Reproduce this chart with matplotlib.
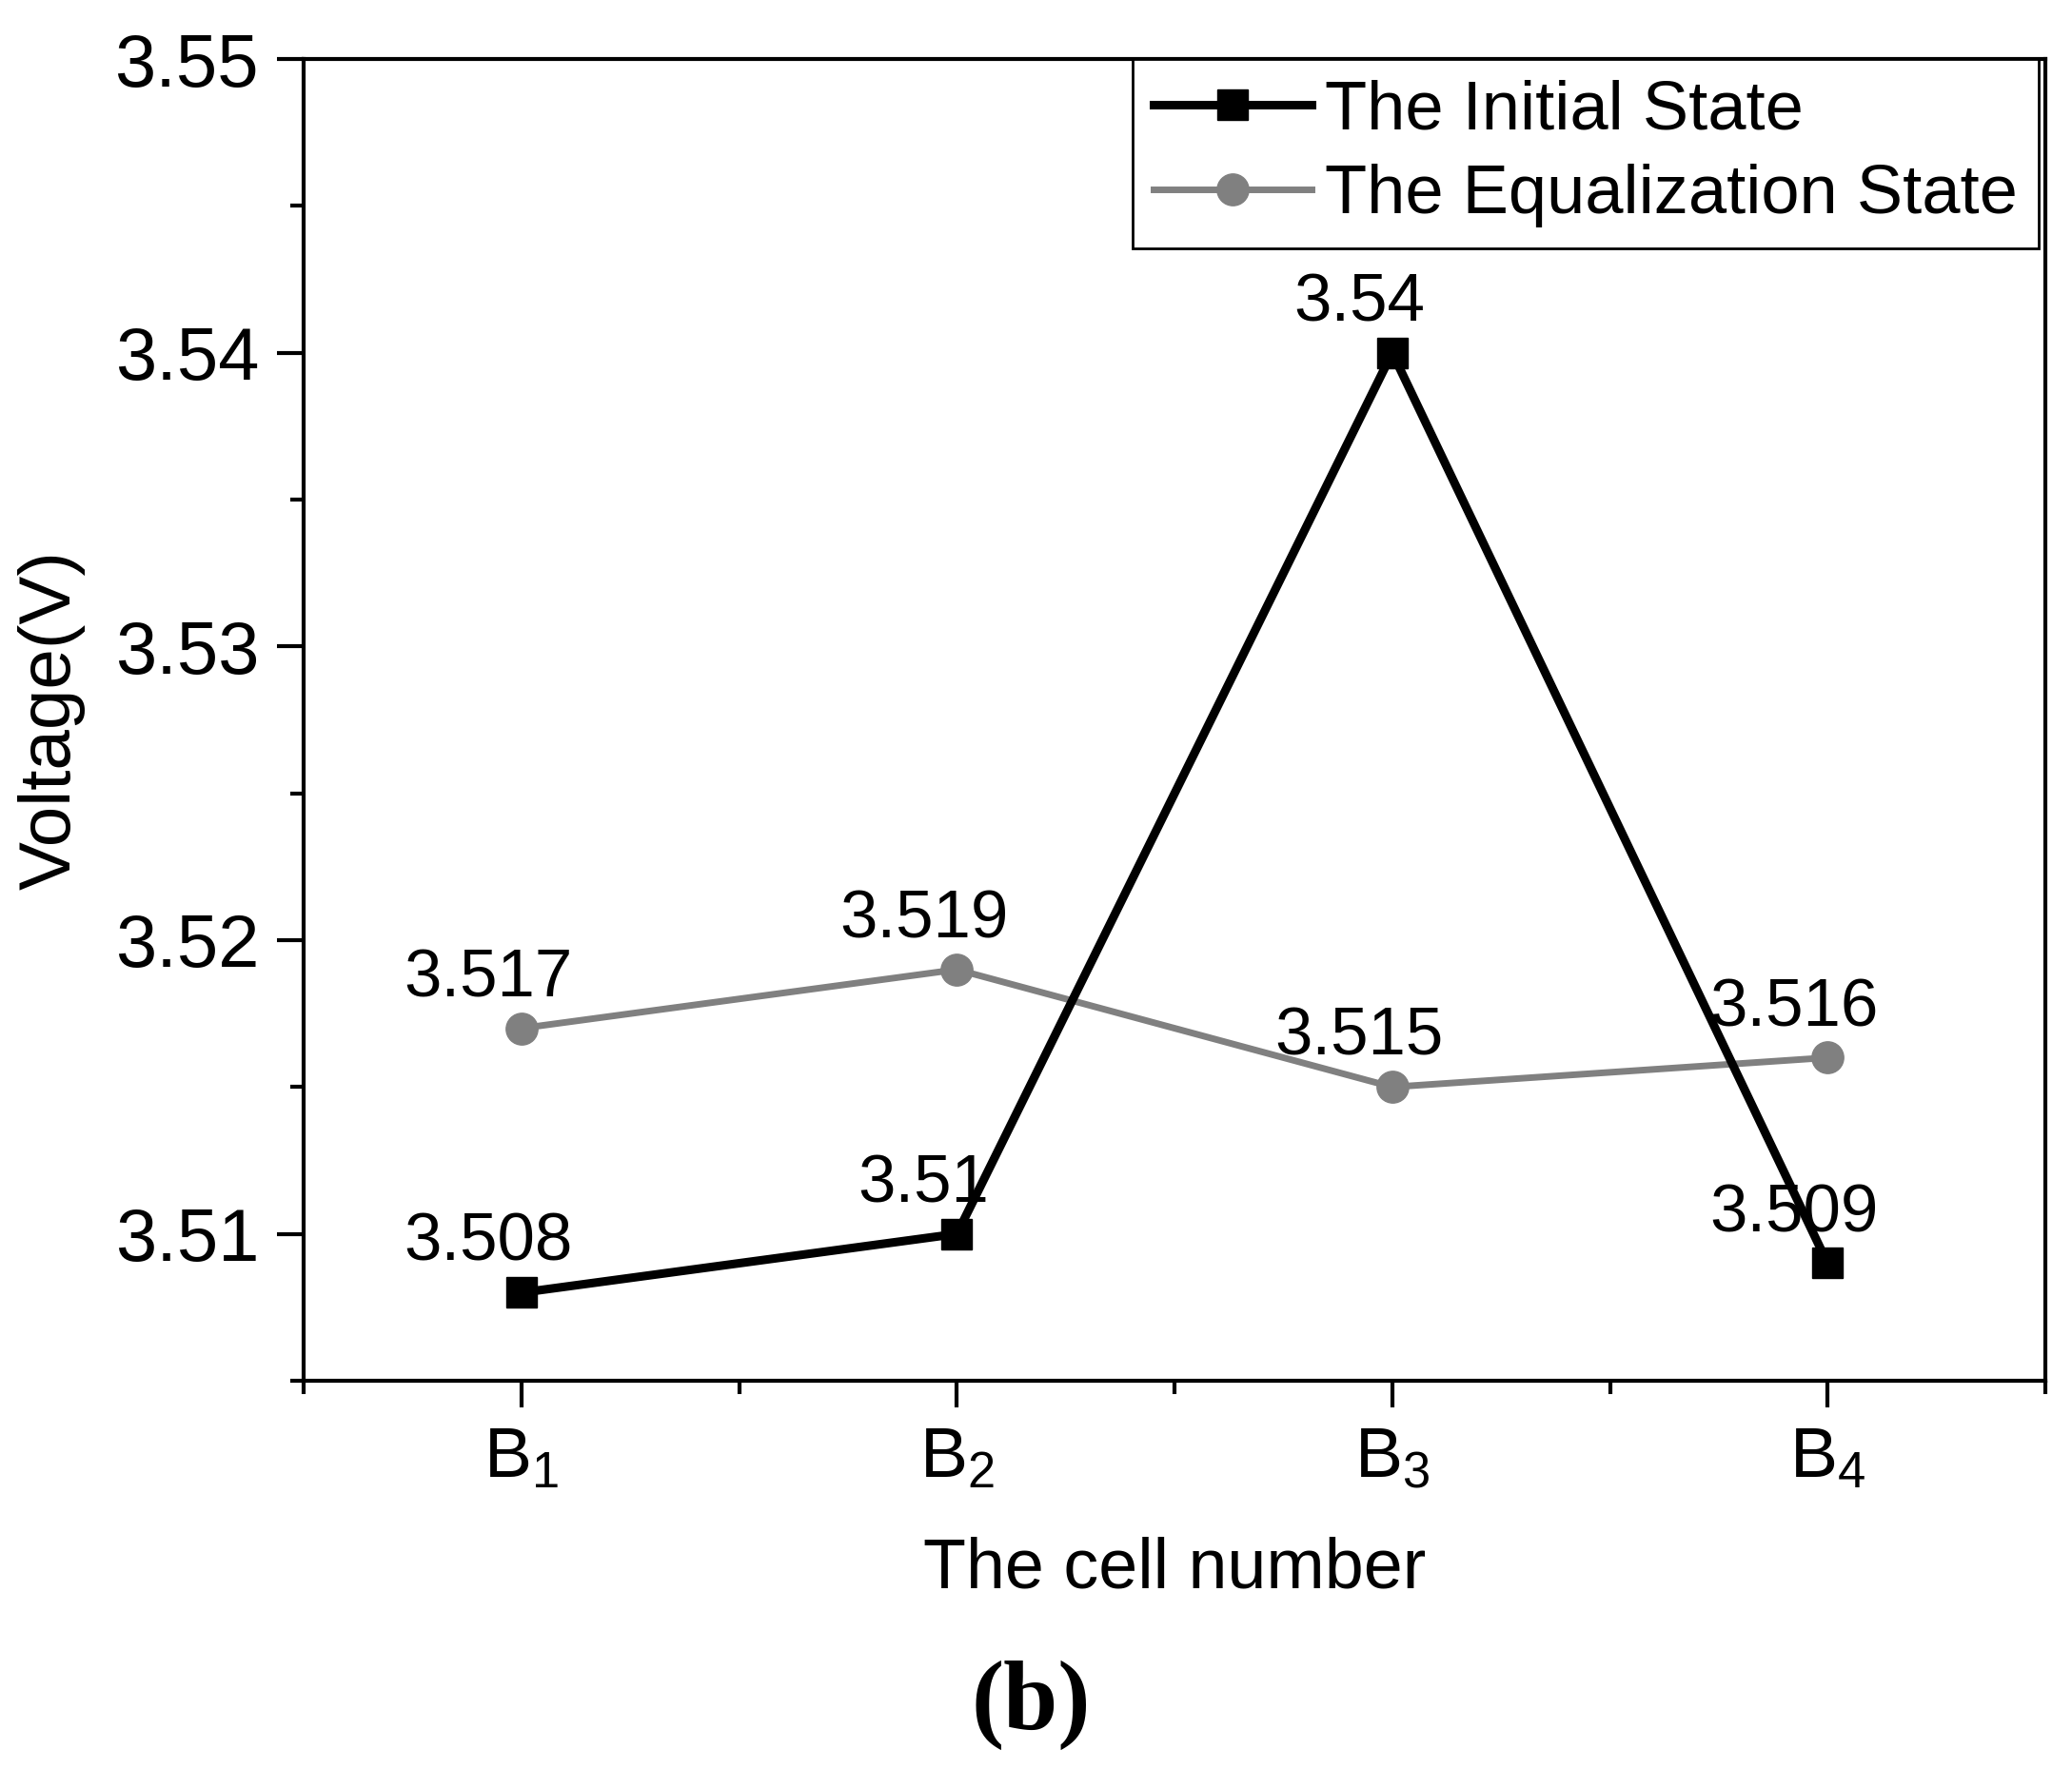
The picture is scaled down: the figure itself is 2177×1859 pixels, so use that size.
import numpy as np
import matplotlib
matplotlib.use("Agg")
import matplotlib.pyplot as plt
from matplotlib.ticker import MultipleLocator, FormatStrFormatter

# data
cells = [1, 2, 3, 4]
cell_labels = [r"$\mathregular{B_1}$", r"$\mathregular{B_2}$", r"$\mathregular{B_3}$", r"$\mathregular{B_4}$"]
initial_v = [3.508, 3.510, 3.540, 3.509]
initial_txt = ["3.508", "3.51", "3.54", "3.509"]
equal_v = [3.517, 3.519, 3.515, 3.516]
equal_txt = ["3.517", "3.519", "3.515", "3.516"]

narrow = ["Liberation Sans Narrow", "Liberation Sans", "DejaVu Sans"]
plt.rcParams["font.family"] = narrow
plt.rcParams["mathtext.fontset"] = "custom"
plt.rcParams["mathtext.rm"] = "Liberation Sans"

fig = plt.figure(figsize=(21.77, 18.59), dpi=100)
ax = fig.add_axes([0.1467, 0.2195, 0.9871 - 0.1467, 0.9666 - 0.2195])

ax.plot(cells, initial_v, color="black", lw=6.5, marker="s", ms=23,
        label="The Initial State", zorder=3)
ax.plot(cells, equal_v, color="#808080", lw=5, marker="o", ms=24,
        label="The Equalization State", zorder=2)

# value labels, all sit up-left of their points
for x, v, t in zip(cells, initial_v, initial_txt):
    ax.annotate(t, (x, v), xytext=(-25, 37), textcoords="offset points",
                ha="center", va="center", fontsize=51)
for x, v, t in zip(cells, equal_v, equal_txt):
    ax.annotate(t, (x, v), xytext=(-25, 37), textcoords="offset points",
                ha="center", va="center", fontsize=51)

ax.set_xlim(0.5, 4.5)
ax.set_ylim(3.505, 3.55)
ax.set_xticks(cells)
ax.set_xticklabels(cell_labels, fontsize=54)
ax.xaxis.set_minor_locator(MultipleLocator(0.5))
ax.yaxis.set_major_locator(MultipleLocator(0.01))
ax.yaxis.set_minor_locator(MultipleLocator(0.005))
ax.yaxis.set_major_formatter(FormatStrFormatter("%.2f"))
for lab in ax.get_yticklabels():
    lab.set_fontfamily(["Liberation Sans", "DejaVu Sans"])
    lab.set_fontsize(56)

ax.tick_params(which="major", direction="out", length=20, width=3, pad=14)
ax.tick_params(which="minor", direction="out", length=10, width=3)
ax.tick_params(top=False, right=False, which="both")
for s in ax.spines.values():
    s.set_linewidth(3)

ax.set_ylabel("Voltage(V)", fontsize=55, family=["Liberation Sans", "DejaVu Sans"], labelpad=22)
ax.set_xlabel("The cell number", fontsize=53, labelpad=34)

leg = ax.legend(loc="upper right", bbox_to_anchor=(0.996, 1.0), borderaxespad=0,
                fontsize=52, handlelength=2.3, handletextpad=0.2, borderpad=0.3,
                labelspacing=0.3, fancybox=False, framealpha=1, edgecolor="black")
leg.get_frame().set_linewidth(2)

fig.text(0.4975, 0.036, "(b)", fontsize=74, fontweight="bold",
         family=["Liberation Serif", "DejaVu Serif"], ha="center", va="center")

fig.savefig("out.png", dpi=100, facecolor="white")
